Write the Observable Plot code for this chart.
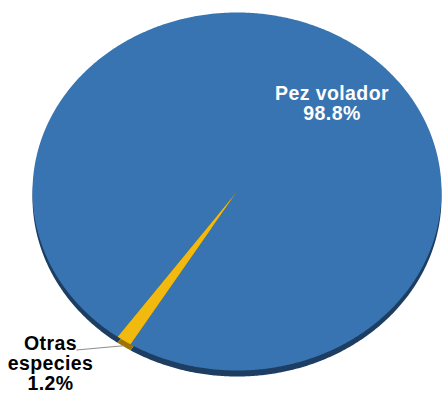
<!DOCTYPE html>
<html>
<head>
<meta charset="utf-8">
<script src="https://cdn.jsdelivr.net/npm/d3@7"></script>
<script src="https://cdn.jsdelivr.net/npm/@observablehq/plot@0.6"></script>
<style>
  html, body { margin: 0; padding: 0; background: #fff; }
  #chart svg { display: block; }
  #chart text { letter-spacing: 0.4px; }
</style>
</head>
<body>
<div id="chart"></div>
<script>
// ---- data ----
const categories = ["Pez volador", "Otras especies"];
const values = [98.8, 1.2];
const colors = ["#3774b1", "#f2b90f"];
const rimColors = ["#1d3d63", "#9c7406"];

// ---- layout (styles, not data) ----
const W = 442, H = 394;
const cx = 236.5, cy = 191, rx = 204.5, ry = 179, depth = 6;
const startDeg = 215.7;
const labelPos = {
  "Pez volador": {x: 331.5, y: 103, fill: "#ffffff"},
  "Otras especies": {x: 50, y: 363, fill: "#000000"}
};

const pie = d3.pie().sort(null).value(d => d.value)
  .startAngle(startDeg * Math.PI / 180)
  .endAngle(startDeg * Math.PI / 180 + 2 * Math.PI);
const rows = categories.map((c, i) => ({category: c, value: values[i]}));
const arcs = pie(rows);

function slicePoints(a, dy, tag) {
  const pts = [{x: cx, y: cy + dy, key: a.data.category + tag, category: a.data.category}];
  const n = Math.max(4, Math.ceil((a.endAngle - a.startAngle) / (Math.PI / 360)));
  for (let k = 0; k <= n; k++) {
    const t = a.startAngle + (a.endAngle - a.startAngle) * k / n;
    pts.push({x: cx + rx * Math.sin(t), y: cy - ry * Math.cos(t) + dy, key: a.data.category + tag, category: a.data.category});
  }
  return pts;
}

const topPts = arcs.flatMap(a => slicePoints(a, 0, "-top"));
const rimPts = arcs.flatMap(a => slicePoints(a, depth, "-rim"));

const small = arcs[1];
const mid = (small.startAngle + small.endAngle) / 2;
const leader = [{
  x1: 76, y1: 349.5,
  x2: cx + rx * Math.sin(mid), y2: cy - ry * Math.cos(mid) + 5
}];

const labels = arcs.map(a => ({
  text: a.data.category.replace(" ", a.data.category === "Otras especies" ? "\n" : " ") + "\n" + a.data.value + "%",
  x: labelPos[a.data.category].x,
  y: labelPos[a.data.category].y,
  fill: labelPos[a.data.category].fill
}));

const chart = Plot.plot({
  width: W, height: H,
  margin: 0,
  x: {domain: [0, W], range: [0, W], axis: null},
  y: {domain: [0, H], range: [0, H], axis: null},
  color: {domain: categories, range: colors},
  marks: [
    Plot.line(rimPts, {x: "x", y: "y", z: "key", fill: d => rimColors[categories.indexOf(d.category)], stroke: null}),
    Plot.line(topPts, {x: "x", y: "y", z: "key", fill: "category", stroke: null}),
    Plot.link(leader, {x1: "x1", y1: "y1", x2: "x2", y2: "y2", stroke: "#8c8c8c", strokeWidth: 1}),
    Plot.text(labels, {x: "x", y: "y", text: "text", fill: d => d.fill, fontSize: 19.5, fontWeight: "bold",
      fontFamily: "Liberation Sans, Arial, sans-serif", lineHeight: 1.03, textAnchor: "middle"})
  ]
});
document.getElementById("chart").appendChild(chart);
</script>
</body>
</html>
